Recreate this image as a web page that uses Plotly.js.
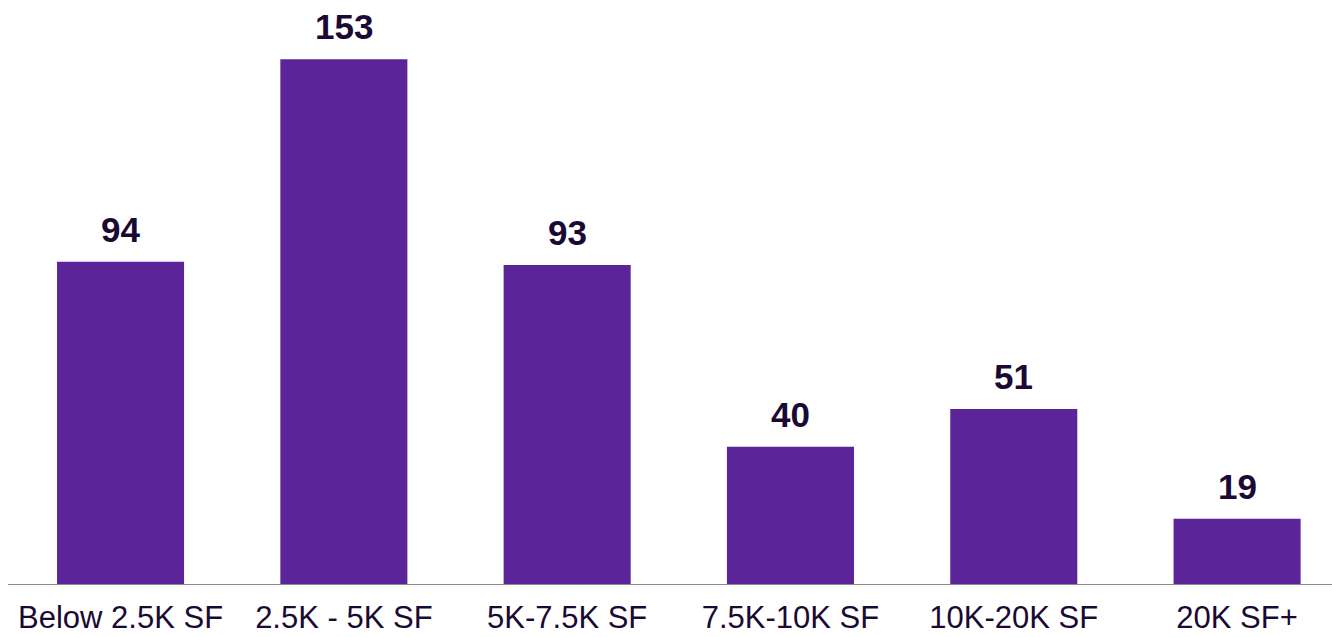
<!DOCTYPE html>
<html>
<head>
<meta charset="utf-8">
<script src="https://cdn.plot.ly/plotly-3.0.1.min.js"></script>
<style>html,body{margin:0;padding:0;background:#fff;}#chart{width:1332px;height:637px;}</style>
</head>
<body>
<div id="chart"></div>
<script>
const categories = ["Below 2.5K SF", "2.5K - 5K SF", "5K-7.5K SF", "7.5K-10K SF", "10K-20K SF", "20K SF+"];
const counts = [94, 153, 93, 40, 51, 19];

const trace = {
  type: 'bar',
  x: categories,
  y: counts,
  marker: {color: '#5c2499'},
  hoverinfo: 'x+y'
};

const annotations = categories.map((c, i) => ({
  x: c, y: counts[i], xref: 'x', yref: 'y',
  text: String(counts[i]),
  showarrow: false, yanchor: 'bottom', yshift: 11,
  font: {family: 'Liberation Sans, Arial, sans-serif', size: 35, color: '#1a0a33', weight: 'bold'}
}));

const layout = {
  width: 1332, height: 637,
  margin: {l: 8, r: 0, t: 0, b: 53},
  paper_bgcolor: '#ffffff', plot_bgcolor: '#ffffff',
  showlegend: false,
  bargap: 0.431,
  font: {family: 'Liberation Sans, Arial, sans-serif', color: '#1a0a33'},
  xaxis: {
    type: 'category',
    range: [-0.504, 5.425],
    showline: true, linecolor: '#8c8c8c', linewidth: 1,
    showgrid: false, zeroline: false, ticks: '',
    ticklabelstandoff: 6,
    tickfont: {size: 31, color: '#1a0a33', family: 'Liberation Sans, Arial, sans-serif'}
  },
  yaxis: {
    range: [0, 170.3],
    visible: false, showgrid: false, zeroline: false
  },
  annotations: annotations
};

Plotly.newPlot('chart', [trace], layout, {displayModeBar: false, staticPlot: true});
</script>
</body>
</html>
